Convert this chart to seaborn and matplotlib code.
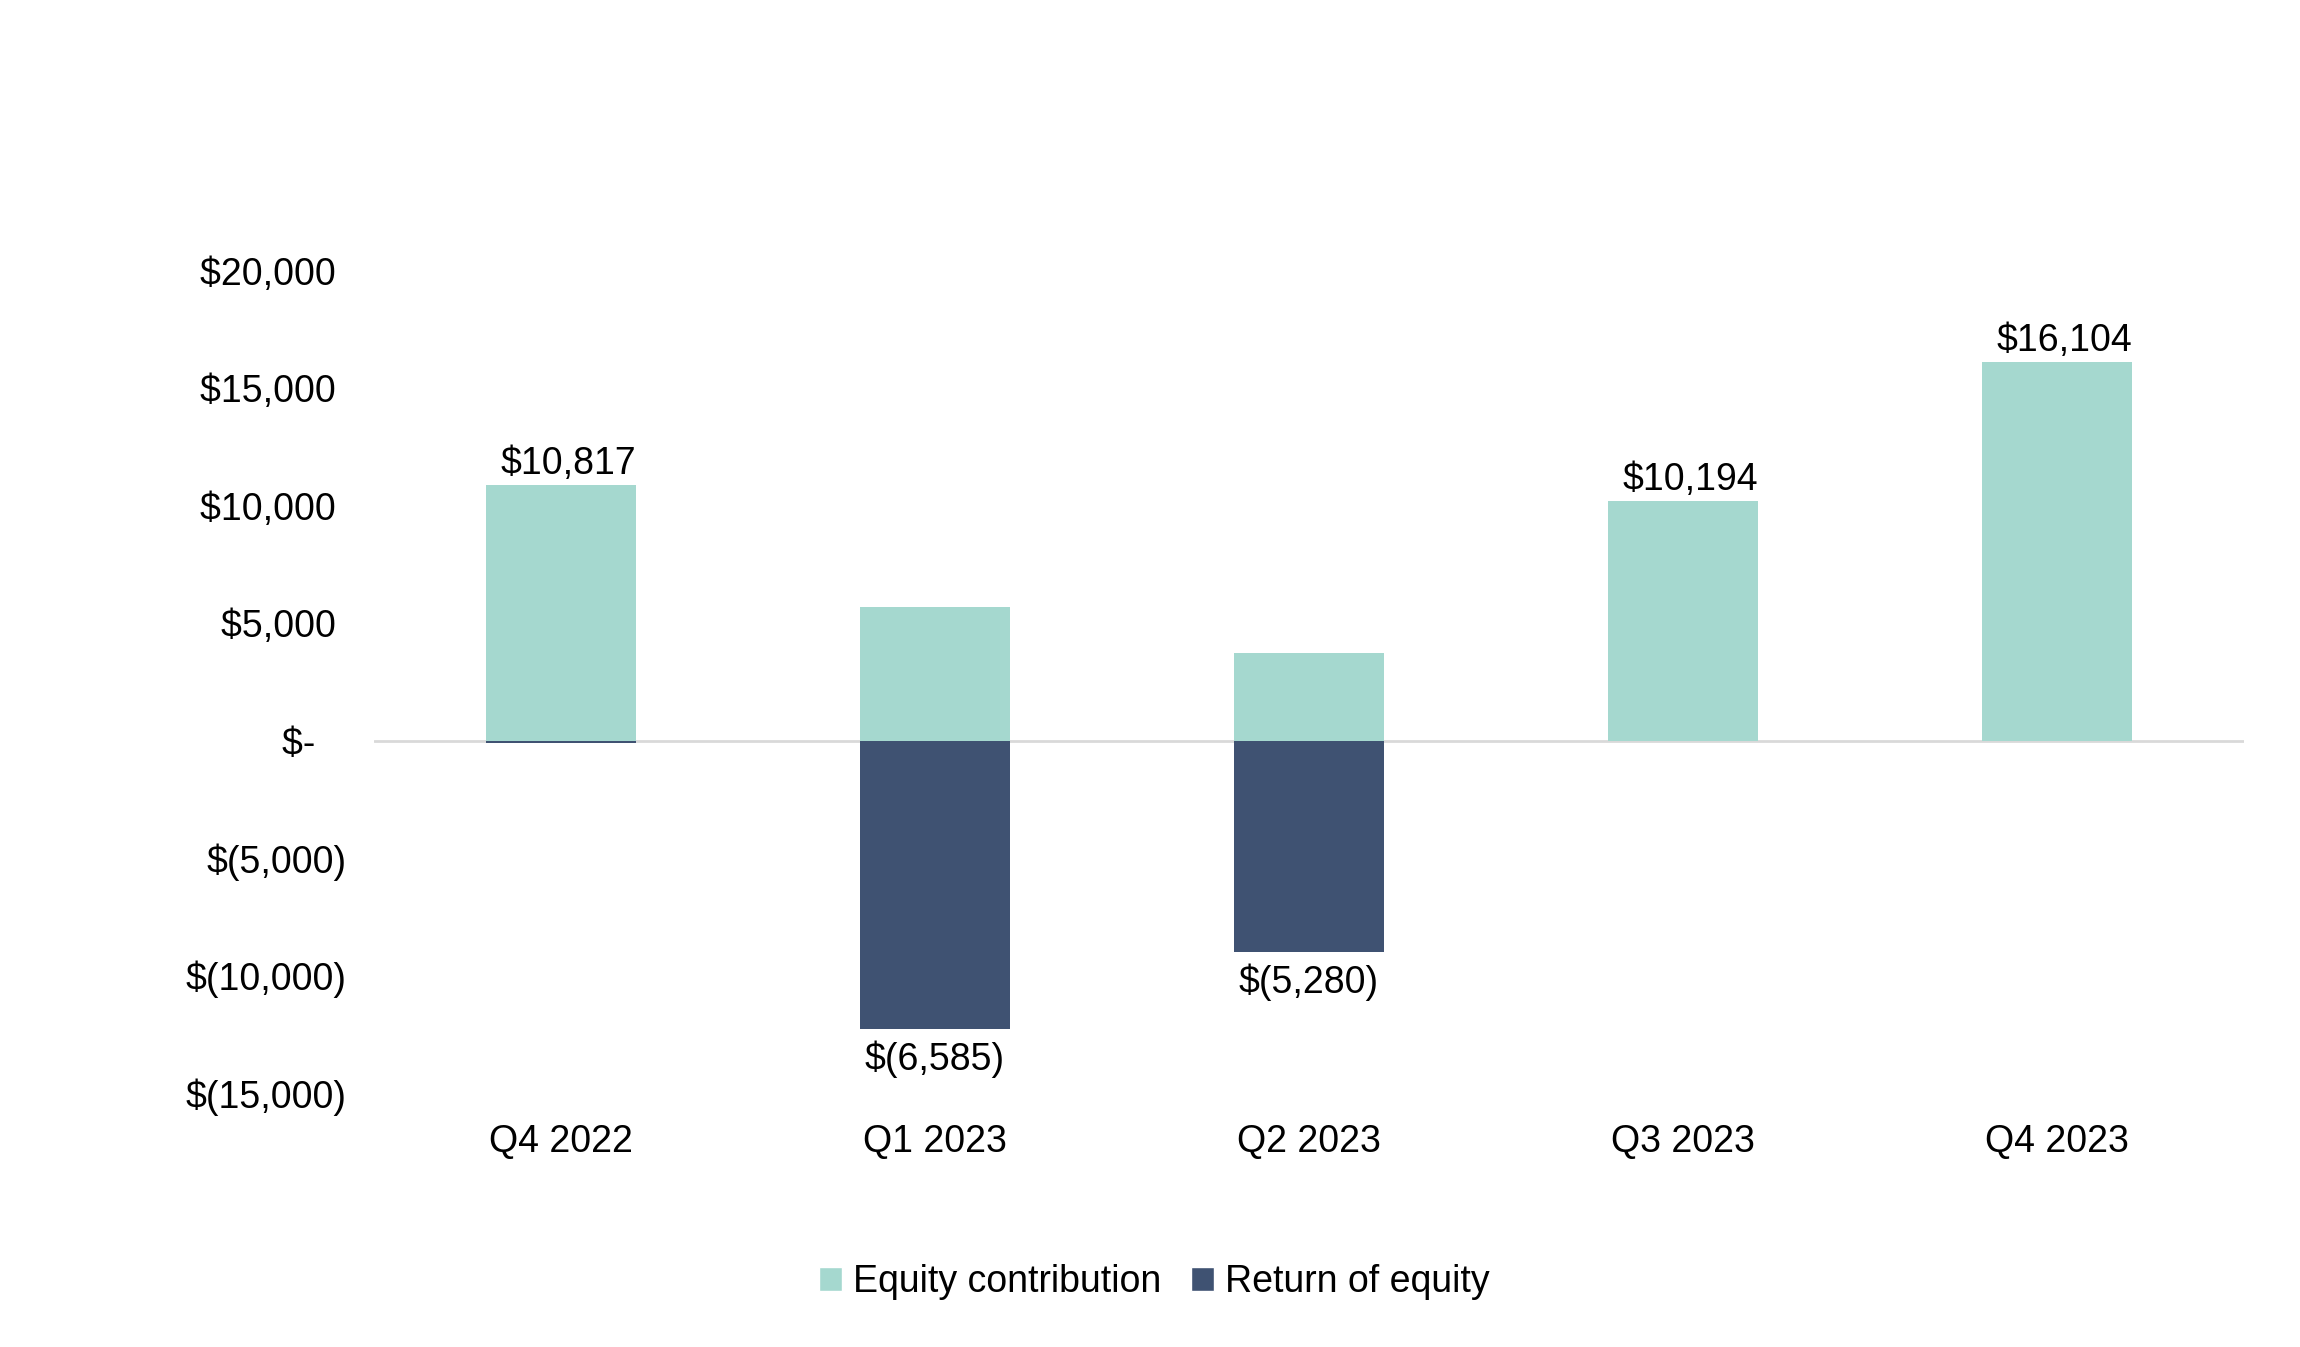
import matplotlib
matplotlib.use("Agg")
import matplotlib.pyplot as plt
from matplotlib.patches import Patch
import seaborn as sns
import numpy as np

# data
quarters = ["Q4 2022", "Q1 2023", "Q2 2023", "Q3 2023", "Q4 2023"]
contribution = [10900, 5680, 3720, 10194, 16104]
returned = [-83, -12265, -9000, 0, 0]
net_labels = ["$10,817", "$(6,585)", "$(5,280)", "$10,194", "$16,104"]
y_ticks = [20000, 15000, 10000, 5000, 0, -5000, -10000, -15000]
y_tick_labels = ["$20,000 ", "$15,000 ", "$10,000 ", "$5,000 ", "$-   ",
                 "$(5,000)", "$(10,000)", "$(15,000)"]

teal = "#A5D8CF"
navy = "#3F5272"

sns.set_style("white")
plt.rcParams["font.family"] = ["Liberation Sans", "DejaVu Sans"]
plt.rcParams["text.color"] = "black"
plt.rcParams["xtick.color"] = "black"
plt.rcParams["ytick.color"] = "black"
fs = 27

fig = plt.figure(figsize=(23, 13.47), dpi=100)
ax = fig.add_axes([0.1626, 0.1886, 0.8131, 0.6104])

sns.barplot(x=quarters, y=contribution, color=teal, width=0.4, ax=ax,
            saturation=1, edgecolor="none", linewidth=0)
sns.barplot(x=quarters, y=returned, color=navy, width=0.4, ax=ax,
            saturation=1, edgecolor="none", linewidth=0)

ax.axhline(0, color="#D9D9D9", linewidth=2, zorder=0)
ax.set_xlim(-0.5, 4.5)
ax.set_ylim(-15000, 20000)
ax.set_yticks(y_ticks)
ax.set_yticklabels(y_tick_labels, fontsize=fs)
ax.tick_params(axis="y", length=0, pad=20)
ax.tick_params(axis="x", length=0, pad=22, labelsize=fs)
ax.set_xlabel("")
ax.set_ylabel("")
for s in ax.spines.values():
    s.set_visible(False)

# net value labels above positive bars / below negative bars
for i, lab in enumerate(net_labels):
    net = contribution[i] + returned[i]
    if net >= 0:
        ax.annotate(lab, (i, contribution[i]), xytext=(5, 15), textcoords="offset points",
                    ha="center", va="center", fontsize=fs)
    else:
        ax.annotate(lab, (i, returned[i]), xytext=(0, -22), textcoords="offset points",
                    ha="center", va="center", fontsize=fs)

handles = [Patch(facecolor=teal, label="Equity contribution"),
           Patch(facecolor=navy, label="Return of equity")]
fig.legend(handles=handles, loc="center", bbox_to_anchor=(0.502, 0.048), ncol=2,
           frameon=False, fontsize=fs, handlelength=0.6, handleheight=0.6,
           handletextpad=0.3, columnspacing=0.8)

fig.savefig("out.png", dpi=100)
